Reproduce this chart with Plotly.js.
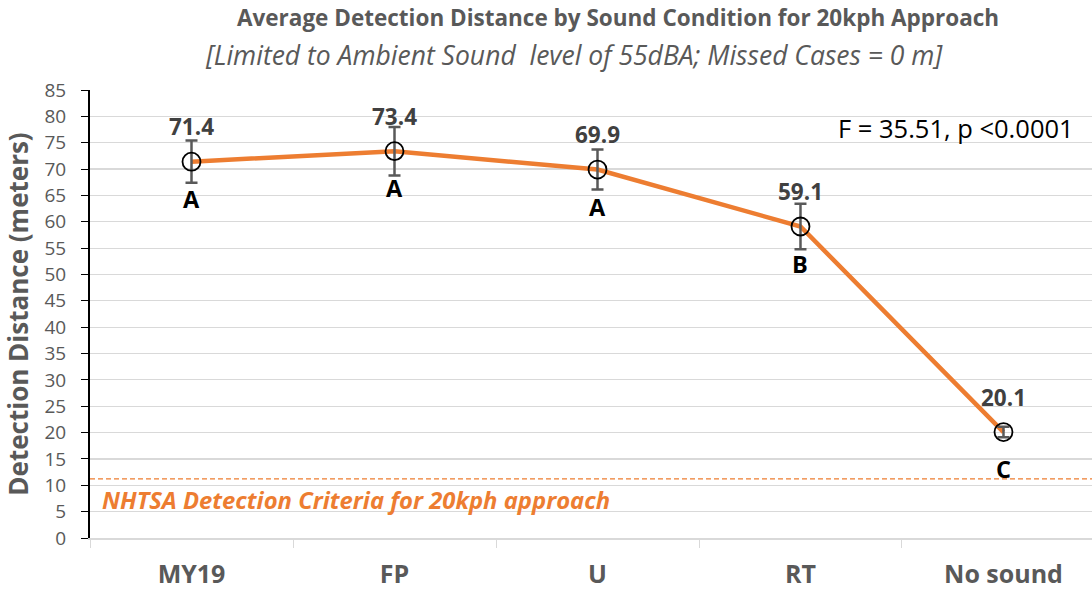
<!DOCTYPE html>
<html>
<head>
<meta charset="utf-8">
<script src="https://cdn.plot.ly/plotly-3.0.1.min.js"></script>
<style>html,body{margin:0;padding:0;background:#fff;}#chart{width:1092px;height:590px;}</style>
</head>
<body>
<div id="chart"></div>
<script>
const categories = ["MY19", "FP", "U", "RT", "No sound"];
const meanDistance = [71.4, 73.4, 69.9, 59.1, 20.1];
const errorMargin = [4.0, 4.6, 3.8, 4.3, 1.0];
const groupLetters = ["A", "A", "A", "B", "C"];
const nhtsaCriteria = 11.2;
const yTicks = [0,5,10,15,20,25,30,35,40,45,50,55,60,65,70,75,80,85];

const orange = "#ED7D31";
const grey = "#595959";
const font = "'Open Sans', sans-serif";

const traces = [
  {
    x: categories, y: meanDistance, type: "scatter", mode: "lines",
    line: {color: orange, width: 4.5}, hoverinfo: "skip", showlegend: false
  },
  {
    x: categories, y: meanDistance, type: "scatter", mode: "markers",
    marker: {symbol: "circle-open", size: 18, color: "#000", line: {width: 1.8, color: "#000"}},
    error_y: {type: "data", array: errorMargin, visible: true, color: grey, thickness: 2.5, width: 6},
    showlegend: false
  }
];

const annotations = [];
categories.forEach((c, i) => {
  annotations.push({x: c, y: meanDistance[i], xref: "x", yref: "y", text: "<b>" + meanDistance[i].toFixed(1) + "</b>",
    showarrow: false, yshift: 35, font: {family: font, size: 22.5, color: "#404040"}});
  annotations.push({x: c, y: meanDistance[i], xref: "x", yref: "y", text: "<b>" + groupLetters[i] + "</b>",
    showarrow: false, yshift: -37, font: {family: font, size: 23.5, color: "#000"}});
});
annotations.push({x: 1, xref: "paper", xanchor: "right", xshift: -16, y: 77.8, yref: "y",
  text: "F = 35.51, p <0.0001", showarrow: false, font: {family: font, size: 25.5, color: "#000"}});
annotations.push({x: 0, xref: "paper", xanchor: "left", xshift: 10, y: 7.2, yref: "y",
  text: "<b><i>NHTSA Detection Criteria for 20kph approach</i></b>", showarrow: false,
  font: {family: font, size: 23.8, color: orange}});
annotations.push({x: 0.5, xref: "paper", xshift: -17, y: 1, yref: "paper", yshift: 35, yanchor: "middle",
  text: "<i>[Limited to Ambient Sound  level of 55dBA; Missed Cases = 0 m]</i>", showarrow: false,
  font: {family: font, size: 26.5, color: grey}});

const layout = {
  width: 1092, height: 590,
  margin: {l: 90, r: 0, t: 90, b: 52},
  paper_bgcolor: "#fff", plot_bgcolor: "#fff",
  title: {text: "<b>Average Detection Distance by Sound Condition for 20kph Approach</b>",
    x: 0.566, xanchor: "center", y: 0.97, yanchor: "middle",
    font: {family: font, size: 22.5, color: grey}},
  xaxis: {type: "category", range: [-0.5, 4.436], tickson: "boundaries",
    ticks: "outside", ticklen: 8, tickcolor: "#d9d9d9", ticklabelstandoff: 13,
    showline: true, linecolor: "#d9d9d9", linewidth: 1.5, showgrid: false, zeroline: false,
    tickfont: {family: font, size: 25, color: grey, weight: "bold"}},
  yaxis: {range: [0, 85], tickvals: yTicks, ticks: "outside", ticklen: 7, tickcolor: "#000",
    ticklabelstandoff: 11,
    showline: true, linecolor: "#000", linewidth: 2, gridcolor: "#d9d9d9", gridwidth: 1.2,
    zeroline: false, tickfont: {family: font, size: 19, color: grey},
    title: {text: "<b>Detection Distance (meters)</b>", standoff: 8, font: {family: font, size: 26, color: grey}}},
  shapes: [{type: "line", xref: "paper", x0: 0, x1: 1, yref: "y", y0: nhtsaCriteria, y1: nhtsaCriteria,
    line: {color: orange, width: 1.3, dash: "5px,3px"}}],
  annotations: annotations,
  showlegend: false
};

Plotly.newPlot("chart", traces, layout, {displayModeBar: false, staticPlot: true});
</script>
</body>
</html>
